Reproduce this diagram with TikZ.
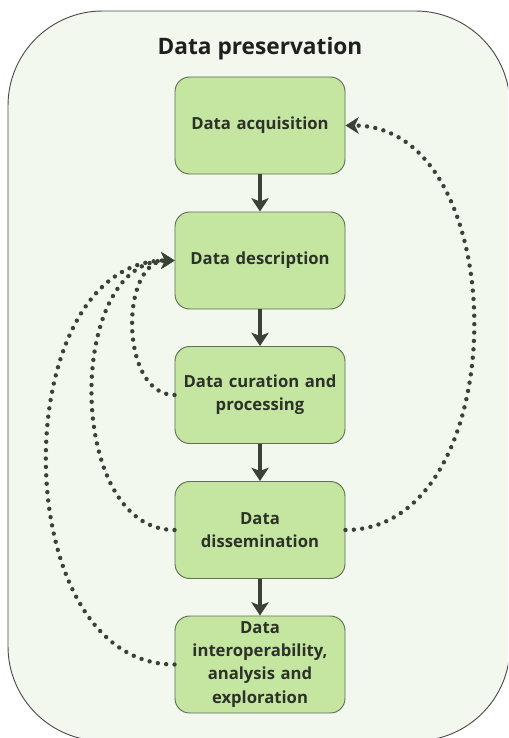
\documentclass[tikz,border=0pt]{standalone}
\usepackage{fontspec}
\setmainfont{Open Sans}
\usetikzlibrary{arrows.meta}
\definecolor{pres_bg}{RGB}{242,248,238}
\definecolor{stage_fill}{RGB}{196,230,160}
\definecolor{stage_line}{RGB}{95,110,85}
\definecolor{flow_dark}{RGB}{58,66,54}

\begin{document}
\begin{tikzpicture}[x=0.75pt, y=-0.75pt,
    stage/.style={draw=stage_line, fill=stage_fill, line width=0.7pt, rounded corners=11pt,
      minimum width=127.5pt, minimum height=72.75pt, text width=124pt, align=center,
      inner sep=1pt, text=flow_dark!75!black, font=\bfseries\fontsize{12.5}{17.3}\selectfont},
    stepflow/.style={flow_dark, line width=3pt, -{Stealth[length=10pt,width=13pt,inset=2.5pt]}},
    feedback/.style={flow_dark, line width=3.3pt, line cap=round, dash pattern=on 0pt off 6.3pt,
      -{Stealth[length=10pt,width=12.5pt,inset=3pt]}}]
        \useasboundingbox (0,0) rectangle (508,738);
        \clip (0,0) rectangle (508,738);
        % outer frame
        \draw[draw=black!70, fill=pres_bg, line width=0.7pt, rounded corners=71pt] (8,11) rectangle (510,741);
        \node[text=black!88, font=\bfseries\fontsize{17}{20}\selectfont] (title) at (260,49) {Data preservation};
        % stages
        \node[stage] (acq) at (260,125.5) {Data acquisition};
        \node[stage] (desc) at (260,260.5) {Data description};
        \node[stage] (cur) at (260,395) {Data curation and\\processing};
        \node[stage] (diss) at (260,530) {Data\\dissemination};
        \node[stage] (inter) at (260,664.5) {Data\\interoperability,\\analysis and\\exploration};
        \foreach \a/\b in {acq/desc, desc/cur, cur/diss, diss/inter}
          \draw[stepflow] (\a) -- (\b);
        % loops back
        \draw[feedback] (cur.west) to[out=180,in=180,looseness=1.05] (desc.west);
        \draw[feedback] (diss.west) to[out=180,in=180,looseness=1.04] (desc.west);
        \draw[feedback] (inter.west) to[out=180,in=180,looseness=1.08] (desc.west);
        \draw[feedback] (diss.east) to[out=0,in=0,looseness=1.08] (acq.east);
\end{tikzpicture}
\end{document}
